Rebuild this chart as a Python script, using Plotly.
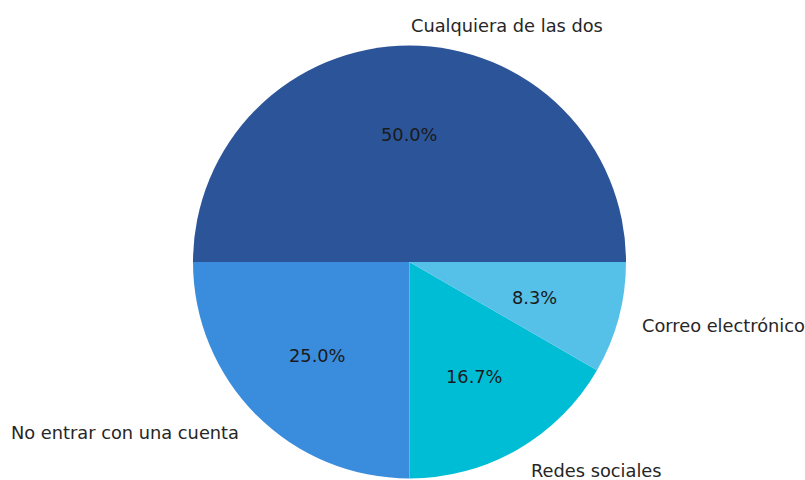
import math
import plotly.graph_objects as go

# Share of users by preferred sign-in method
labels = ["Cualquiera de las dos", "No entrar con una cuenta", "Redes sociales", "Correo electrónico"]
values = [6, 3, 2, 1]
colors = ["#2c5599", "#3a8cdc", "#00bdd6", "#55c0e8"]

W, H = 805, 480
cx, cy, r = 409.5, 262, 216.5

fig = go.Figure(
    go.Pie(
        labels=labels,
        values=values,
        sort=False,
        direction="counterclockwise",
        rotation=-90,
        textinfo="none",
        hoverinfo="label+percent",
        marker=dict(colors=colors, line=dict(width=0)),
        showlegend=False,
        domain=dict(
            x=[(cx - r) / W, (cx + r) / W],
            y=[(H - cy - r) / H, (H - cy + r) / H],
        ),
    )
)

# Outer labels at 1.1 r and percentages at 0.6 r, placed at each wedge's mid-angle
total = sum(values)
annotations = []
start = 0.0
for lab, v in zip(labels, values):
    span = 360.0 * v / total
    mid = math.radians(start + span / 2)
    start += span
    c, s = math.cos(mid), math.sin(mid)
    annotations.append(dict(
        x=(cx + 1.1 * r * c) / W, y=(H - cy + 1.1 * r * s) / H,
        xref="paper", yref="paper", text=lab, showarrow=False,
        xanchor="left" if c > -1e-9 else "right", yanchor="middle", yshift=-2,
        font=dict(family="DejaVu Sans", size=17.8, color="#262626"),
    ))
    annotations.append(dict(
        x=(cx + 0.6 * r * c) / W, y=(H - cy + 0.6 * r * s) / H,
        xref="paper", yref="paper", text=f"{100 * v / total:.1f}%", showarrow=False,
        xanchor="center", yanchor="middle", yshift=-2,
        font=dict(family="DejaVu Sans", size=17.8, color="#1a1a1a"),
    ))

fig.update_layout(
    width=W, height=H,
    margin=dict(l=0, r=0, t=0, b=0),
    paper_bgcolor="white",
    plot_bgcolor="white",
    annotations=annotations,
)

fig.write_html("out.html")
